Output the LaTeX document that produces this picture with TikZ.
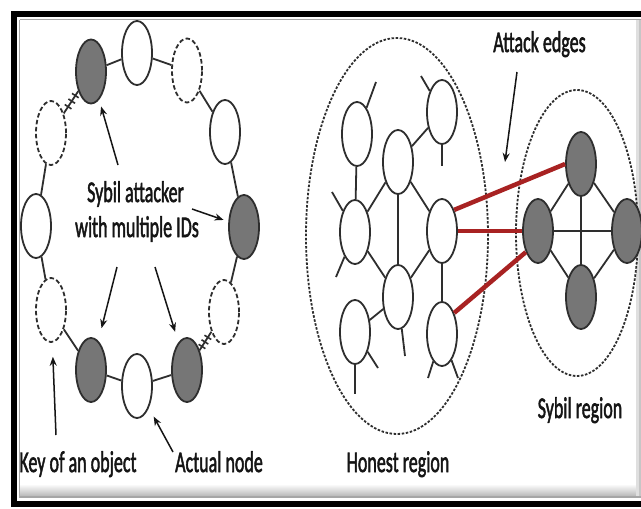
\documentclass[tikz,border=0pt]{standalone}
\usepackage{fontspec}
\setmainfont{Carlito}
\newfontfamily\lblfont{Carlito}[FakeBold=2.2]
\usetikzlibrary{shapes.geometric,arrows.meta,decorations.markings}
\definecolor{linec}{HTML}{2E2E2E}
\definecolor{nodegray}{HTML}{767676}
\definecolor{attackc}{HTML}{A82222}
\definecolor{textc}{HTML}{151515}
\begin{document}
\begin{tikzpicture}[x=1pt,y=-1pt,
  nd/.style={ellipse, draw=linec, line width=1.8pt, minimum width=30pt, minimum height=64pt, inner sep=0pt, fill=white},
  gnd/.style={nd, fill=nodegray},
  dnd/.style={nd, dash pattern=on 4.5pt off 2.5pt},
  region/.style={ellipse, draw=linec, line width=1.8pt, dash pattern=on 2.5pt off 1.6pt, inner sep=0pt},
  edge/.style={draw=linec, line width=1.8pt},
  attack/.style={draw=attackc, line width=4.5pt},
  hashed/.style={edge, postaction={decorate}, decoration={markings,
      mark=at position 0.3 with {\draw[linec, line width=1.6pt] (0,-4pt) -- (0,4pt);},
      mark=at position 0.55 with {\draw[linec, line width=1.6pt] (0,-4pt) -- (0,4pt);},
      mark=at position 0.8 with {\draw[linec, line width=1.6pt] (0,-4pt) -- (0,4pt);}}},
  lbl/.style={font=\lblfont\fontsize{30}{36}\selectfont, text=textc, inner sep=0pt, anchor=base},
  arr/.style={draw=textc, line width=1.5pt, -{Stealth[length=9pt,width=7pt]}},
]
\useasboundingbox (0,0) rectangle (641,509);
\clip (0,0) rectangle (641,509);
\fill[white] (0,0) rectangle (641,509);
% frame
\shade[top color=white, bottom color=gray!60] (19,484) rectangle (641,497);
\fill[gray!25] (636,19) rectangle (638.5,497);
\fill[gray!45] (638.5,19) rectangle (641,497);
\draw[gray!70, line width=1.2pt] (19.5,19.5) -- (641,19.5);
\draw[gray!70, line width=1.2pt] (19.5,19.5) -- (19.5,497) -- (641,497);
\draw[black, line width=6pt] (14,503.5) -- (14,14) -- (641,14);
\draw[black, line width=6pt] (11,503.5) -- (641,503.5);

% ---------- left panel: ring ----------
\node[gnd] (gTL) at (91,71.5) {};
\node[nd]  (wT)  at (137,53) {};
\node[dnd] (dTR) at (187,70.5) {};
\node[nd]  (wRU) at (225,132) {};
\node[gnd] (gR)  at (244,227) {};
\node[dnd] (dRL) at (224,312) {};
\node[gnd] (gBR) at (187,370) {};
\node[nd]  (wB)  at (137,386) {};
\node[gnd] (gBL) at (91,370) {};
\node[dnd] (dLL) at (51,310) {};
\node[nd]  (wL)  at (36,226) {};
\node[dnd] (dLU) at (51,133) {};

\draw[edge] (gTL) -- (wT);
\draw[edge] (wT) -- (dTR);
\draw[edge] (dTR) -- (wRU);
\draw[edge] (wRU) -- (gR);
\draw[edge] (gR) -- (dRL);
\draw[hashed] (dRL) -- (gBR);
\draw[edge] (gBR) -- (wB);
\draw[edge] (wB) -- (gBL);
\draw[edge] (gBL) -- (dLL);
\draw[edge] (dLL) -- (wL);
\draw[edge] (wL) -- (dLU);
\draw[hashed] (dLU) -- (gTL);

\node[lbl] (tsyb1) at (135.5,202) {\scalebox{0.6}[1]{Sybil attacker}};
\node[lbl] (tsyb2) at (137,237) {\scalebox{0.6}[1]{with multiple IDs}};
\node[lbl] (tkey) at (78,472) {\scalebox{0.6}[1]{Key of an object}};
\node[lbl] (tact) at (219,472) {\scalebox{0.6}[1]{Actual node}};

\coordinate (a1) at (118,165);
\coordinate (a2) at (192,209);
\coordinate (a3) at (117,267);
\coordinate (a4) at (155,267);
\coordinate (a5) at (56,435);
\coordinate (a6) at (173,452);
\draw[arr, shorten >=7pt] (a1) -- (gTL);
\draw[arr, shorten >=5pt] (a2) -- (gR);
\draw[arr, shorten >=13pt] (a3) -- (gBL);
\draw[arr, shorten >=11pt] (a4) -- (gBR);
\draw[arr, shorten >=14pt] (a5) -- (dLL);
\draw[arr, shorten >=10pt] (a6) -- (wB);

% ---------- right panel ----------
\node[region, minimum width=182pt, minimum height=396pt] (honest) at (397,236) {};
\node[region, minimum width=122pt, minimum height=286pt] (sybilr) at (577,233) {};

\node[nd] (H1) at (357,134) {};
\node[nd] (H2) at (442,112) {};
\node[nd] (H3) at (398,162) {};
\node[nd] (H4) at (355,232) {};
\node[nd] (H5) at (442,231) {};
\node[nd] (H6) at (398,297) {};
\node[nd] (H7) at (355,332) {};
\node[nd] (H8) at (442,334) {};

\draw[edge] (H1) -- (H4);
\draw[edge] (H2) -- (H3);
\draw[edge] (H3) -- (H4);
\draw[edge] (H3) -- (H5);
\draw[edge] (H3) -- (H6);
\draw[edge] (H4) -- (H6);
\draw[edge] (H5) -- (H6);
\draw[edge] (H5) -- (H8);
\draw[edge] (H6) -- (H7);

\coordinate (s1) at (376,82);
\coordinate (s2) at (421,76);
\coordinate (s3) at (442,166);
\coordinate (s4) at (332,192);
\coordinate (s5) at (336,277);
\coordinate (s6) at (405,356);
\coordinate (s7) at (355,394);
\coordinate (s8) at (378,368);
\coordinate (s9) at (428,378);
\coordinate (s10) at (458,378);
\draw[edge] (H1) -- (s1);
\draw[edge] (H2) -- (s2);
\draw[edge] (H2) -- (s3);
\draw[edge] (H4) -- (s4);
\draw[edge] (H4) -- (s5);
\draw[edge] (H6) -- (s6);
\draw[edge] (H7) -- (s7);
\draw[edge] (H7) -- (s8);
\draw[edge] (H8) -- (s9);
\draw[edge] (H8) -- (s10);

\node[gnd] (S1) at (581,164) {};
\node[gnd] (S2) at (538,231) {};
\node[gnd] (S3) at (627,231) {};
\node[gnd] (S4) at (581,297) {};
\draw[edge] (S1) -- (S2);
\draw[edge] (S1) -- (S3);
\draw[edge] (S2) -- (S4);
\draw[edge] (S3) -- (S4);
\draw[edge] (S2) -- (S3);
\draw[edge] (S1) -- (S4);

\draw[attack] (H5.60) -- (S1.west);
\draw[attack] (H5.east) -- (S2.west);
\draw[attack] (H8.60) -- (S2.240);

\node[lbl] (tatt) at (539.5,52) {\scalebox{0.6}[1]{Attack edges}};
\node[lbl] (thon) at (398,472) {\scalebox{0.6}[1]{Honest region}};
\node[lbl] (tsybr) at (580,418) {\scalebox{0.6}[1]{Sybil region}};
\coordinate (b1) at (517,72);
\coordinate (b2) at (505,162);
\draw[arr] (b1) -- (b2);
\end{tikzpicture}
\end{document}
